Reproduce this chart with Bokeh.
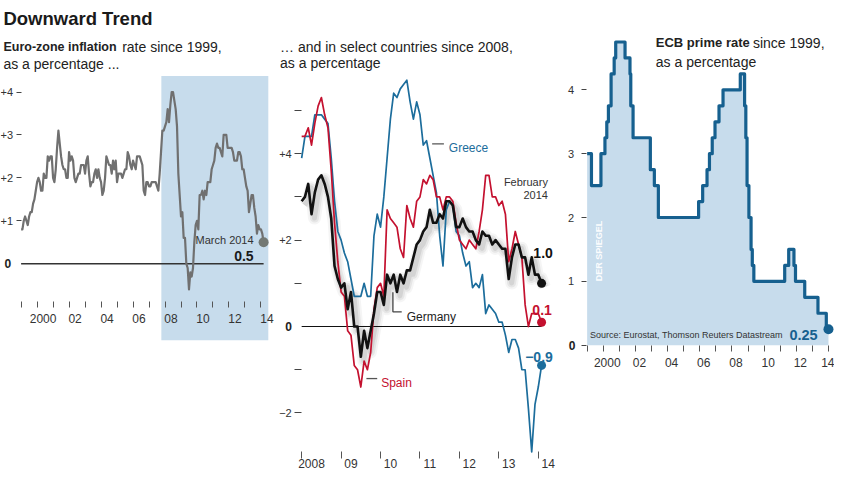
import math
import pandas as pd
from bokeh.plotting import figure
from bokeh.models import Range1d, LinearAxis, FixedTicker, Grid
from bokeh.core.properties import value
from bokeh.embed import file_html
from bokeh.resources import INLINE

# ---------------- data ----------------
# Euro-zone inflation, monthly, January 1999 - March 2014, percent
euro_start = 1999
euro_hicp = [
    0.8, 0.8, 1.0, 1.1, 1.0, 0.9, 1.1, 1.2, 1.2, 1.4, 1.5, 1.7,   # 1999
    1.9, 2.0, 1.9, 1.7, 1.7, 2.1, 2.0, 2.0, 2.5, 2.4, 2.5, 2.5,   # 2000
    2.0, 1.9, 2.2, 2.7, 3.1, 2.8, 2.5, 2.3, 2.2, 2.2, 2.0, 2.0,   # 2001
    2.6, 2.4, 2.5, 2.4, 2.0, 1.9, 2.0, 2.1, 2.1, 2.3, 2.3, 2.3,   # 2002
    2.1, 2.4, 2.5, 2.1, 1.8, 1.9, 1.9, 2.1, 2.2, 2.0, 2.2, 2.0,   # 2003
    1.9, 1.6, 1.7, 2.0, 2.5, 2.4, 2.3, 2.3, 2.1, 2.4, 2.2, 2.4,   # 2004
    1.9, 2.1, 2.1, 2.1, 2.0, 2.1, 2.2, 2.2, 2.6, 2.5, 2.3, 2.2,   # 2005
    2.4, 2.3, 2.2, 2.5, 2.5, 2.5, 2.4, 2.3, 1.7, 1.6, 1.9, 1.9,   # 2006
    1.8, 1.8, 1.9, 1.9, 1.9, 1.9, 1.8, 1.7, 2.1, 2.6, 3.1, 3.1,   # 2007
    3.2, 3.3, 3.6, 3.3, 3.7, 4.0, 4.0, 3.8, 3.6, 3.2, 2.1, 1.6,   # 2008
    1.1, 1.2, 0.6, 0.6, 0.0, -0.1, -0.6, -0.2, -0.3, -0.1, 0.5, 0.9,  # 2009
    1.0, 0.8, 1.6, 1.6, 1.7, 1.5, 1.7, 1.6, 1.9, 1.9, 1.9, 2.2,   # 2010
    2.3, 2.4, 2.7, 2.8, 2.7, 2.7, 2.6, 2.5, 3.0, 3.0, 3.0, 2.7,   # 2011
    2.7, 2.7, 2.7, 2.6, 2.4, 2.4, 2.4, 2.6, 2.6, 2.5, 2.2, 2.2,   # 2012
    2.0, 1.8, 1.7, 1.2, 1.4, 1.6, 1.6, 1.3, 1.1, 0.7, 0.9, 0.8,   # 2013
    0.8, 0.7, 0.5,                                                # 2014
]

# Selected countries, monthly, January 2008 - February 2014, percent
country_start = 2008
greece = [
    3.9, 4.4, 4.4, 4.4, 4.9, 4.9, 4.9, 4.8, 4.7, 3.9, 2.9, 2.2,
    2.0, 1.7, 1.5, 1.1, 0.7, 0.7, 0.7, 1.0, 0.7, 0.7, 2.1, 2.6,
    2.3, 3.0, 3.9, 4.8, 5.4, 5.3, 5.5, 5.6, 5.7, 5.2, 4.8, 5.2,
    4.9, 4.2, 4.3, 3.9, 3.5, 3.1, 2.1, 1.4, 2.7, 2.9, 2.8, 2.2,
    2.1, 1.7, 1.4, 1.5, 0.9, 1.0, 0.9, 1.2, 0.3, 0.5, 0.4, 0.3,
    0.1, 0.1, -0.2, -0.6, -0.3, -0.3, -0.5, -1.0, -1.0, -1.9, -2.9, -1.8,
    -1.4, -0.9,
]
spain = [
    4.4, 4.4, 4.6, 4.2, 4.7, 5.1, 5.3, 4.9, 4.6, 3.6, 2.4, 1.5,
    0.8, 0.7, -0.1, -0.2, -0.9, -1.0, -1.4, -0.8, -1.0, -0.6, 0.4, 0.9,
    1.0, 0.7, 2.7, 2.5, 2.4, 2.3, 1.8, 1.6, 2.8, 2.5, 2.3, 2.9,
    3.0, 3.4, 3.3, 3.5, 3.4, 3.0, 3.0, 2.7, 3.0, 3.0, 2.9, 2.4,
    2.0, 1.9, 1.8, 2.0, 1.9, 1.8, 2.2, 2.7, 3.5, 3.5, 3.0, 3.0,
    2.8, 2.9, 2.6, 1.5, 1.8, 2.2, 1.9, 1.6, 0.5, 0.0, 0.3, 0.3,
    0.3, 0.1,
]
germany = [
    2.9, 3.0, 3.3, 2.6, 3.1, 3.4, 3.5, 3.3, 3.0, 2.5, 1.4, 1.1,
    0.9, 1.0, 0.4, 0.8, 0.0, 0.0, -0.7, -0.1, -0.5, -0.1, 0.3, 0.8,
    0.8, 0.5, 1.2, 1.0, 1.2, 0.8, 1.2, 1.0, 1.3, 1.3, 1.6, 1.9,
    2.0, 2.2, 2.3, 2.7, 2.4, 2.4, 2.6, 2.5, 2.9, 2.9, 2.8, 2.3,
    2.3, 2.5, 2.3, 2.2, 2.2, 2.0, 1.9, 2.2, 2.1, 2.1, 1.9, 2.0,
    1.9, 1.8, 1.8, 1.1, 1.6, 1.9, 1.9, 1.6, 1.6, 1.2, 1.6, 1.2,
    1.2, 1.0,
]

# ECB main refinancing rate: dates of change and new rate, percent
ecb_dates = [
    "1999-01-01", "1999-04-09", "1999-11-10", "2000-02-09", "2000-03-22",
    "2000-04-28", "2000-06-28", "2000-09-06", "2000-10-11", "2001-05-11",
    "2001-08-31", "2001-09-18", "2001-11-09", "2002-12-06", "2003-03-07",
    "2003-06-06", "2005-12-06", "2006-03-08", "2006-06-15", "2006-08-09",
    "2006-10-11", "2006-12-13", "2007-03-14", "2007-06-13", "2008-07-09",
    "2008-10-15", "2008-11-12", "2008-12-10", "2009-01-21", "2009-03-11",
    "2009-04-08", "2009-05-13", "2011-04-13", "2011-07-13", "2011-11-09",
    "2011-12-14", "2012-07-11", "2013-05-08", "2013-11-13",
]
ecb_rates = [
    3.0, 2.5, 3.0, 3.25, 3.5,
    3.75, 4.25, 4.5, 4.75, 4.5,
    4.25, 3.75, 3.25, 2.75, 2.5,
    2.0, 2.25, 2.5, 2.75, 3.0,
    3.25, 3.5, 3.75, 4.0, 4.25,
    3.75, 3.25, 2.5, 2.0, 1.5,
    1.25, 1.0, 1.25, 1.5, 1.25,
    1.0, 0.75, 0.5, 0.25,
]
ecb_last_date = "2014-01-01"

# axis ticks and labels
euro_years = list(range(1999, 2015))
euro_label_years = [2000, 2002, 2004, 2006, 2008, 2010, 2012, 2014]
euro_year_labels = ["2000", "02", "04", "06", "08", "10", "12", "14"]
euro_y_ticks = [1, 2, 3, 4]
euro_y_labels = ["+1", "+2", "+3", "+4"]

country_years = list(range(2008, 2015))
country_year_labels = ["2008", "09", "10", "11", "12", "13", "14"]
country_y_ticks = [-2, 2, 4]
country_y_labels = ["\u22122", "+2", "+4"]
country_y_minor = [-1, 1, 3, 5]

ecb_years = list(range(1999, 2015))
ecb_label_years = [2000, 2002, 2004, 2006, 2008, 2010, 2012, 2014]
ecb_year_labels = ["2000", "02", "04", "06", "08", "10", "12", "14"]
ecb_y_ticks = [0, 1, 2, 3, 4]
ecb_y_labels = ["", "1", "2", "3", "4"]

shade_from, shade_to = 2007.77, 2014.46   # highlighted period in left panel

# ---------------- styling ----------------
FONT = "Liberation Sans"
INK = "#222222"
GRAY = "#707070"
SHADE = "#c7dcec"
GR_BLUE = "#1c6d9c"
SP_RED = "#c4112f"
ECB_BLUE = "#16608f"

W, H = 834, 473
SX, SY = 0.981, 0.982


def X(rx):
    return rx * SX


def Y(ry):
    return H - ry * SY


# panel pixel anchors: x -> (ref px of d0, px per year, d0); y -> (ref px of 0, px per unit)
XP = {"L": (21, 16.3, 1999.0), "M": (307, 40.2, 2008.0), "R": (598, 16.4, 1999.0)}
YP = {"L": (268, 43.7), "M": (332, 44.0), "R": (351, 65.0)}


def xval(k, rx):
    a, b, d0 = XP[k]
    return d0 + (rx - a) / b


def yval(k, ry):
    c, e = YP[k]
    return (c - ry) / e


def x_range_for(k):
    a, b, d0 = XP[k]
    return Range1d(start=d0 - a / b, end=d0 + (W / SX - a) / b)


def y_range_for(k):
    c, e = YP[k]
    return Range1d(start=(c - H / SY) / e, end=c / e)


def dec_year(s):
    t = pd.Timestamp(s)
    days = 366 if t.is_leap_year else 365
    return t.year + (t.dayofyear - 1) / days


p = figure(width=W, height=H, x_range=Range1d(0, W), y_range=Range1d(0, H),
           output_backend="svg", toolbar_location=None,
           x_axis_location=None, y_axis_location=None, min_border=0,
           outline_line_color=None, background_fill_color="white",
           border_fill_color="white")
p.center = [r for r in p.center if not isinstance(r, Grid)]
p.extra_x_ranges = {k: x_range_for(k) for k in XP}
p.extra_y_ranges = {k: y_range_for(k) for k in YP}


def rn(k):
    return dict(x_range_name=k, y_range_name=k)


def txt(rx, ry, s, size, bold=False, color=INK, align="left",
        baseline="alphabetic", angle=0.0, alpha=1.0):
    p.text(x=[X(rx)], y=[Y(ry)], text=[s], text_font=value(FONT),
           text_font_size=f"{size}px", text_font_style="bold" if bold else "normal",
           text_color=color, text_alpha=alpha, text_align=align,
           text_baseline=baseline, angle=angle)


def fmt(v, nd=1):
    s = f"{v:.{nd}f}"
    return s.replace("-", "\u2212")


def x_axis(k, loc, years, label_years, labels, offset, standoff, tick=6):
    ticks = [y + offset for y in label_years]
    ax = LinearAxis(x_range_name=k, y_range_name=k, fixed_location=loc,
                    ticker=FixedTicker(ticks=ticks, minor_ticks=years),
                    major_label_overrides={t: l for t, l in zip(ticks, labels)},
                    major_tick_in=0, major_tick_out=0, major_tick_line_color=None,
                    minor_tick_in=0, minor_tick_out=tick,
                    minor_tick_line_color="#555555", minor_tick_line_width=1,
                    axis_line_color=None, major_label_standoff=standoff,
                    major_label_text_font=FONT, major_label_text_font_size="12px",
                    major_label_text_color="#333333")
    p.add_layout(ax, "below")


def y_axis(k, loc, ticks, labels, minor, tick, standoff):
    ax = LinearAxis(x_range_name=k, y_range_name=k, fixed_location=loc,
                    ticker=FixedTicker(ticks=ticks, minor_ticks=minor),
                    major_label_overrides={t: l for t, l in zip(ticks, labels)},
                    major_tick_in=0, major_tick_out=tick,
                    major_tick_line_color="#444444", major_tick_line_width=1,
                    minor_tick_in=0, minor_tick_out=tick,
                    minor_tick_line_color="#444444", minor_tick_line_width=1,
                    axis_line_color=None, major_label_standoff=standoff,
                    major_label_text_font=FONT, major_label_text_font_size="11px",
                    major_label_text_color="#333333")
    p.add_layout(ax, "left")


# ---------------- left panel: euro-zone inflation ----------------
euro_x = [euro_start + i / 12 for i in range(len(euro_hicp))]
p.quad(left=[shade_from], right=[shade_to], bottom=[yval("L", 346)], top=[yval("L", 77)],
       fill_color=SHADE, line_color=None, level="underlay", **rn("L"))
p.line([euro_x[0], euro_x[-1]], [0, 0], line_color="#333333", line_width=1.4, **rn("L"))
p.line(euro_x, euro_hicp, line_color=GRAY, line_width=2.2, line_join="round", **rn("L"))
p.scatter([euro_x[-1]], [euro_hicp[-1]], size=10, fill_color="#737873",
          line_color=None, **rn("L"))
x_axis("L", yval("L", 307), euro_years, euro_label_years, euro_year_labels, 0.375, 6)
y_axis("L", xval("L", 21), euro_y_ticks, euro_y_labels, [], 5, 3)

# ---------------- middle panel: countries ----------------
cx = [country_start + i / 12 for i in range(len(greece))]
p.line([cx[0], cx[-1]], [0, 0], line_color="#111111", line_width=1.2, **rn("M"))
sdx, sdy = 3 / 40.2, -4 / 44.0
for w, a in [(13, 0.04), (9, 0.06), (5, 0.08)]:
    p.line([x + sdx for x in cx], [v + sdy for v in germany], line_color="black",
           line_alpha=a, line_width=w, line_join="round", **rn("M"))
p.line(cx, greece, line_color=GR_BLUE, line_width=1.7, line_join="round", **rn("M"))
p.line(cx, spain, line_color=SP_RED, line_width=1.7, line_join="round", **rn("M"))
p.line(cx, germany, line_color="#111111", line_width=2.6, line_join="round", **rn("M"))
p.scatter([cx[-1]] * 3, [greece[-1], spain[-1], germany[-1]], size=9,
          fill_color=[GR_BLUE, SP_RED, "#111111"], line_color=None, **rn("M"))
x_axis("M", yval("M", 459), country_years, country_years, country_year_labels, 0.25, 1, tick=7)
y_axis("M", xval("M", 307), country_y_ticks, country_y_labels, country_y_minor, 7, 3)

# ---------------- right panel: ECB rate ----------------
ecb_x = [dec_year(d) for d in ecb_dates] + [dec_year(ecb_last_date)]
sx, sy = [], []
for i, r in enumerate(ecb_rates):
    sx += [ecb_x[i], ecb_x[i + 1]]
    sy += [r, r]
p.varea(x=sx, y1=[0] * len(sx), y2=sy, fill_color=SHADE, **rn("R"))
p.line(sx, sy, line_color=ECB_BLUE, line_width=3.2, line_join="round", **rn("R"))
p.scatter([sx[-1]], [sy[-1]], size=10, fill_color=ECB_BLUE, line_color=None, **rn("R"))
x_axis("R", 0, ecb_years, ecb_label_years, ecb_year_labels, 0.25, 7)
y_axis("R", xval("R", 597), ecb_y_ticks, ecb_y_labels, [], 5, 7)

# ---------------- texts ----------------
txt(3, 18.5, "Downward Trend", 18.5, bold=True, color="#1a1a1a")

txt(3, 47, "Euro-zone inflation", 12.5, bold=True)
txt(124, 47, "rate since 1999,", 14)
txt(3, 65, "as a percentage ...", 14)

txt(285, 47, "\u2026 and in select countries since 2008,", 14)
txt(285, 64, "as a percentage", 14)

txt(668, 43, "ECB prime rate", 13, bold=True)
txt(767, 43, "since 1999,", 14)
txt(668, 63, "as a percentage", 14)

# bold zero labels
txt(11, 268, "0", 12, bold=True, align="right", baseline="middle")
txt(297, 332, "0", 12, bold=True, align="right", baseline="middle")
txt(586, 351, "0", 12, bold=True, align="right", baseline="middle")

# left annotations
txt(258, 244, "March 2014", 11, color="#333333", align="right")
txt(258, 260, fmt(euro_hicp[-1]), 14, bold=True, align="right", color="#1a1a1a")

# middle annotations
p.line([X(440), X(452)], [Y(146), Y(146)], line_color="#555555", line_width=1.3)
txt(457, 150.5, "Greece", 12, color=GR_BLUE)
p.line([X(400), X(400), X(409)], [Y(297), Y(317), Y(317)], line_color="#444444", line_width=1.3)
txt(414, 322, "Germany", 12, color=INK)
p.line([X(373), X(384)], [Y(385), Y(385)], line_color="#555555", line_width=1.3)
txt(388, 390, "Spain", 12, color=SP_RED)
txt(558, 185, "February", 11, color="#333333", align="right")
txt(558, 198, "2014", 11, color="#333333", align="right")
txt(563, 257, fmt(germany[-1]), 14, bold=True, align="right", color="#111111")
txt(562, 315, fmt(spain[-1]), 14, bold=True, align="right", color=SP_RED)
txt(563, 363, fmt(greece[-1]), 14, bold=True, align="right", color=GR_BLUE)

# right annotations
txt(601, 341, "Source: Eurostat, Thomson Reuters Datastream", 9, color="#333333")
txt(833, 341, fmt(ecb_rates[-1], 2), 14.5, bold=True, align="right", color=ECB_BLUE)
txt(610, 255, "DER SPIEGEL", 9, bold=True, color="white", align="center",
    baseline="middle", angle=math.pi / 2, alpha=0.95)

open("out.html", "w").write(file_html(p, INLINE))
